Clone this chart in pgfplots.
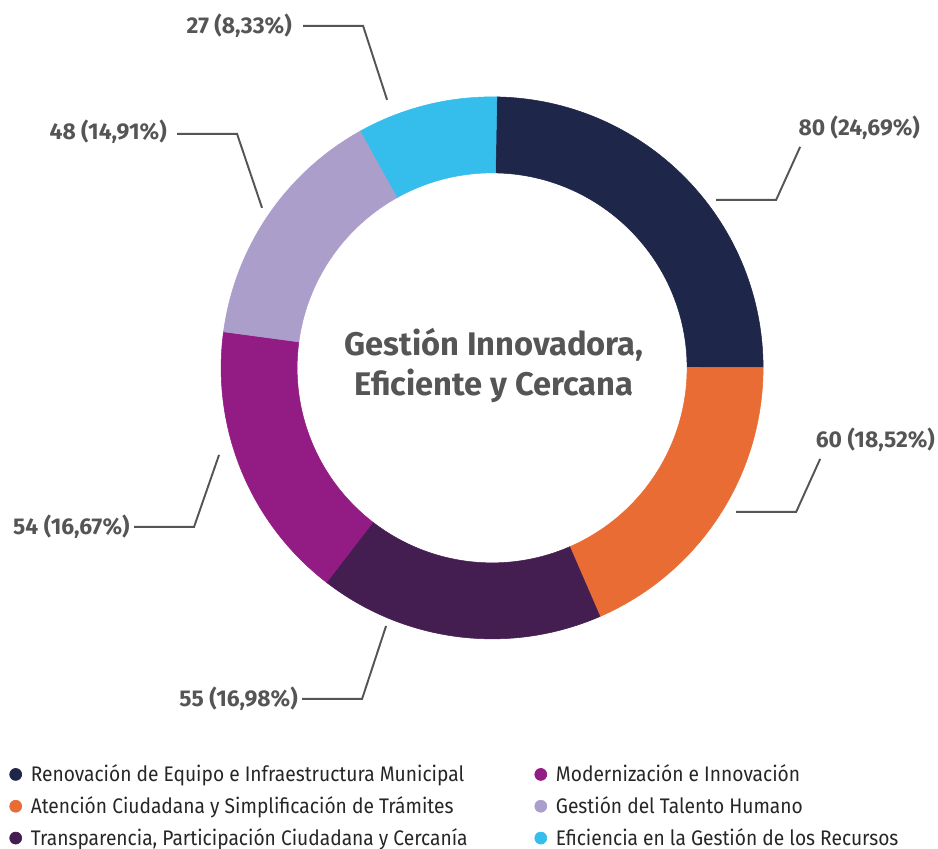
\documentclass[border=0pt]{standalone}
\usepackage{fontspec}
\setmainfont{Fira Sans}
\newfontfamily\legendfont{Fira Sans}[FakeStretch=0.91]
\usepackage{pgfplots}
\usepackage{pgfplotstable}
\pgfplotsset{compat=1.18}

\definecolor{cNavy}{HTML}{1E2749}
\definecolor{cOrange}{HTML}{E86C33}
\definecolor{cPurple}{HTML}{451E51}
\definecolor{cMagenta}{HTML}{921C83}
\definecolor{cLavender}{HTML}{AB9ECB}
\definecolor{cCyan}{HTML}{35BEEC}
\definecolor{txtgray}{HTML}{555555}

% one row per segment, clockwise from the top
\pgfplotstableread{
value col
80 cNavy
60 cOrange
55 cPurple
54 cMagenta
48 cLavender
27 cCyan
}\piedata

\begin{document}
\begin{tikzpicture}
\useasboundingbox (0,0) rectangle (18.76cm,16.98cm);
\def\total{0}
\pgfplotstableforeachcolumnelement{value}\of\piedata\as\segval{%
  \pgfmathsetmacro\tmp{\total+\segval}\xdef\total{\tmp}}
\begin{axis}[
    at={(0,0)}, anchor=origin,
    x=0.02cm, y=0.02cm, xmin=0, xmax=938, ymin=0, ymax=849,
    enlargelimits=false, hide axis, clip=false,
    legend columns=2, legend cell align=left,
    legend image code/.code={\fill[#1] (0pt,0pt) circle (3.4pt);},
    legend style={draw=none, fill=none, at={(0.004,0.108)}, anchor=north west,
      font=\legendfont\fontsize{12}{14}\selectfont, text=black!85, row sep=3pt,
      /tikz/every odd column/.append style={column sep=3pt},
      /tikz/every even column/.append style={column sep=36pt}},
]
\def\angstart{89}
\pgfplotsforeachungrouped \i in {0,...,5}{%
  \pgfplotstablegetelem{\i}{value}\of\piedata \let\segval\pgfplotsretval
  \pgfplotstablegetelem{\i}{col}\of\piedata \let\segcol\pgfplotsretval
  \pgfmathsetmacro\aend{\angstart-(360/\total)*\segval}
  \edef\cmd{\noexpand\fill[\segcol, draw=\segcol, line width=0.3pt, shift={(axis cs:492,481)}]
    (\angstart:5.42cm) arc[start angle=\angstart, end angle=\aend, radius=5.42cm]
    -- (\aend:3.9cm) arc[start angle=\aend, end angle=\angstart, radius=3.9cm] -- cycle;}
  \cmd
  \global\let\angstart\aend
}

\node[align=center, text=txtgray, font=\bfseries\fontsize{18.6}{22.8}\selectfont]
  at (axis cs:494,483) {Gestión Innovadora,\\Eficiente y Cercana};

% labels and leader lines
\tikzset{lbl/.style={text=txtgray, inner sep=0pt, font=\bfseries\fontsize{13}{15}\selectfont},
         lead/.style={txtgray, line width=1.1pt}}
\node[lbl, anchor=east] at (axis cs:292,823) {27 (8,33\%)};
\draw[lead] (axis cs:303,823) -- (axis cs:363,823) -- (axis cs:387,749);
\node[lbl, anchor=east] at (axis cs:920,721) {80 (24,69\%)};
\draw[lead] (axis cs:800,702) -- (axis cs:776,649) -- (axis cs:716,649);
\node[lbl, anchor=east] at (axis cs:167,717) {48 (14,91\%)};
\draw[lead] (axis cs:177,715) -- (axis cs:237,715) -- (axis cs:262,641);
\node[lbl, anchor=east] at (axis cs:935,409) {60 (18,52\%)};
\draw[lead] (axis cs:820,390) -- (axis cs:796,337) -- (axis cs:736,337);
\node[lbl, anchor=east] at (axis cs:130,322) {54 (16,67\%)};
\draw[lead] (axis cs:134,322) -- (axis cs:194,322) -- (axis cs:219,394);
\node[lbl, anchor=east] at (axis cs:298,150) {55 (16,98\%)};
\draw[lead] (axis cs:302,150) -- (axis cs:362,150) -- (axis cs:386,223);

\addlegendimage{cNavy}\addlegendentry{Renovación de Equipo e Infraestructura Municipal}
\addlegendimage{cMagenta}\addlegendentry{Modernización e Innovación}
\addlegendimage{cOrange}\addlegendentry{Atención Ciudadana y Simplificación de Trámites}
\addlegendimage{cLavender}\addlegendentry{Gestión del Talento Humano}
\addlegendimage{cPurple}\addlegendentry{Transparencia, Participación Ciudadana y Cercanía}
\addlegendimage{cCyan}\addlegendentry{Eficiencia en la Gestión de los Recursos}
\end{axis}
\end{tikzpicture}
\end{document}
